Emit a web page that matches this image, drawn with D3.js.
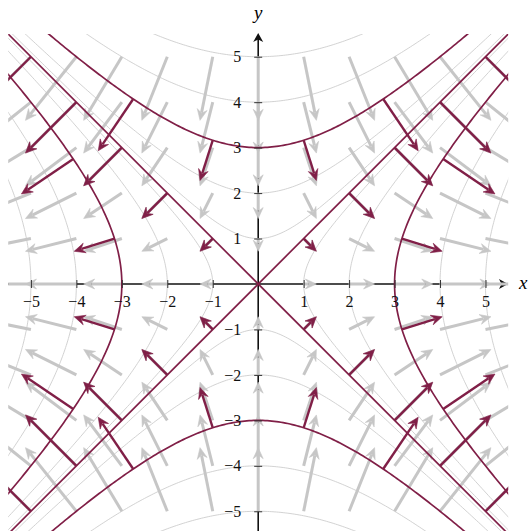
<!DOCTYPE html>
<html>
<head>
<meta charset="utf-8">
<script src="https://cdn.jsdelivr.net/npm/d3@7"></script>
<style>
  body { margin: 0; background: #fff; }
  svg { display: block; }
</style>
</head>
<body>
<div id="chart"></div>
<script>
// level values of f(x, y) = x^2 - y^2
const grayLevels = [-25, -16, -4, -1, 1, 4, 16, 25];
const redLevels = [-9, 0, 9];

// quiver grid (gradient field, gray arrows)
const gridX = [-5, -4, -3, -2, -1, 0, 1, 2, 3, 4, 5];
const gridY = [-5, -4, -3, -2, -1, 0, 1, 2, 3, 4, 5];

// points on the highlighted curves where the red gradient arrows start
const diagSteps = [1, 2, 3, 4, 5];          // (±k, ±k) on f = 0
const hyperParams = [-2.75, -1, 1, 2.75];   // free coordinate on f = ±9
const arrowScale = 0.14;                    // arrow = scale * grad f

const xTicks = [-5, -4, -3, -2, -1, 1, 2, 3, 4, 5];
const yTicks = [-5, -4, -3, -2, -1, 1, 2, 3, 4, 5];

const width = 528, height = 531;
const maroon = '#801f47';
const grayArrow = '#c6c6c6';
const grayLine = '#cdcdcd';
const serif = '"Liberation Serif", "DejaVu Serif", serif';

const x = d3.scaleLinear().domain([-5.5, 5.5]).range([8.2, 508.2]);
const y = d3.scaleLinear().domain([-5.5, 5.5]).range([534, 34]);

const svg = d3.select('#chart').append('svg')
  .attr('width', width)
  .attr('height', height);

svg.append('defs').append('clipPath')
  .attr('id', 'plot-clip')
  .append('rect')
  .attr('x', x(-5.5))
  .attr('y', y(5.5))
  .attr('width', x(5.5) - x(-5.5))
  .attr('height', y(-5.5) - y(5.5));

// gradient of f
const grad = (px, py) => [2 * px, -2 * py];

// sample one level curve of x^2 - y^2 = c (returns list of branches)
function levelCurve(c) {
  const t = d3.range(-7, 7.001, 0.05);
  if (c === 0) {
    return [[[-7, -7], [7, 7]], [[-7, 7], [7, -7]]];
  }
  if (c > 0) {
    return [1, -1].map(s => t.map(v => [s * Math.sqrt(c + v * v), v]));
  }
  return [1, -1].map(s => t.map(v => [v, s * Math.sqrt(-c + v * v)]));
}

const line = d3.line()
  .x(d => x(d[0]))
  .y(d => y(d[1]));

// arrow with stealth head, drawn in pixel space
function drawArrow(g, x0, y0, x1, y1, color, lw, hl, hw) {
  const dx = x1 - x0, dy = y1 - y0;
  const len = Math.hypot(dx, dy);
  if (len < 1) return;
  const ux = dx / len, uy = dy / len;
  const px = -uy, py = ux;
  const sx = x1 - ux * hl * 0.7, sy = y1 - uy * hl * 0.7;
  g.append('line')
    .attr('x1', x0).attr('y1', y0)
    .attr('x2', sx).attr('y2', sy)
    .attr('stroke', color)
    .attr('stroke-width', lw);
  const bx = x1 - ux * hl, by = y1 - uy * hl;
  const nx = x1 - ux * hl * 0.65, ny = y1 - uy * hl * 0.65;
  g.append('path')
    .attr('d', 'M' + x1 + ',' + y1 +
      'L' + (bx + px * hw) + ',' + (by + py * hw) +
      'L' + nx + ',' + ny +
      'L' + (bx - px * hw) + ',' + (by - py * hw) + 'Z')
    .attr('fill', color)
    .attr('stroke', color)
    .attr('stroke-width', 0.6)
    .attr('stroke-linejoin', 'miter');
}

function gradArrow(g, px, py, color, lw, hl, hw) {
  const v = grad(px, py);
  drawArrow(g, x(px), y(py), x(px + arrowScale * v[0]), y(py + arrowScale * v[1]), color, lw, hl, hw);
}

// Axis lines (below the field)
const axes = svg.append('g').attr('class', 'axes');

axes.append('line')
  .attr('x1', x(-5.5)).attr('x2', 502)
  .attr('y1', y(0)).attr('y2', y(0))
  .attr('stroke', '#111').attr('stroke-width', 1.6);
axes.append('path')
  .attr('d', 'M508,' + y(0) + 'l-9,-5 l2.5,5 l-2.5,5 Z')
  .attr('fill', '#111');

axes.append('line')
  .attr('x1', x(0)).attr('x2', x(0))
  .attr('y1', height).attr('y2', 39)
  .attr('stroke', '#111').attr('stroke-width', 1.6);
axes.append('path')
  .attr('d', 'M' + x(0) + ',33 l-5,9 l5,-2.5 l5,2.5 Z')
  .attr('fill', '#111');

const plot = svg.append('g').attr('clip-path', 'url(#plot-clip)');

// gray level curves
plot.append('g')
  .attr('class', 'gray-levels')
  .selectAll('path')
  .data(grayLevels.flatMap(levelCurve))
  .enter().append('path')
    .attr('d', line)
    .attr('fill', 'none')
    .attr('stroke', grayLine)
    .attr('stroke-width', 0.9);

// gray gradient field
const quiver = plot.append('g').attr('class', 'quiver');
gridX.forEach(gx => {
  gridY.forEach(gy => {
    gradArrow(quiver, gx, gy, grayArrow, 3, 11, 5);
  });
});

// highlighted level curves
plot.append('g')
  .attr('class', 'red-levels')
  .selectAll('path')
  .data(redLevels.flatMap(levelCurve))
  .enter().append('path')
    .attr('d', line)
    .attr('fill', 'none')
    .attr('stroke', maroon)
    .attr('stroke-width', 1.7);

// gradient arrows on the highlighted curves
const redArrows = plot.append('g').attr('class', 'red-arrows');
const starts = [];
diagSteps.forEach(k => {
  [[1, 1], [1, -1], [-1, 1], [-1, -1]].forEach(s => starts.push([s[0] * k, s[1] * k]));
});
hyperParams.forEach(t => {
  const r = Math.sqrt(9 + t * t);
  starts.push([r, t], [-r, t], [t, r], [t, -r]);
});
starts.forEach(p => gradArrow(redArrows, p[0], p[1], maroon, 2.4, 11, 5));

// ticks and labels on top
const fmt = d => (d < 0 ? '\u2212' : '') + Math.abs(d);

const xAxis = svg.append('g')
  .attr('transform', 'translate(0,' + y(0) + ')')
  .call(d3.axisBottom(x).tickValues(xTicks).tickFormat(fmt).tickSize(4).tickPadding(8));
xAxis.attr('font-family', null).attr('font-size', null);
xAxis.select('.domain').remove();
xAxis.selectAll('.tick line').attr('y1', -4).attr('stroke', '#333').attr('stroke-width', 1);
xAxis.selectAll('.tick text')
  .style('font-family', serif).style('font-size', '16px').attr('fill', '#111');

const yAxis = svg.append('g')
  .attr('transform', 'translate(' + x(0) + ',0)')
  .call(d3.axisLeft(y).tickValues(yTicks).tickFormat(fmt).tickSize(4).tickPadding(13));
yAxis.attr('font-family', null).attr('font-size', null);
yAxis.select('.domain').remove();
yAxis.selectAll('.tick line').attr('x1', 4).attr('stroke', '#333').attr('stroke-width', 1);
yAxis.selectAll('.tick text')
  .style('font-family', serif).style('font-size', '16px').attr('fill', '#111');

svg.append('text')
  .attr('x', 519).attr('y', 289)
  .style('font-family', serif)
  .style('font-style', 'italic')
  .style('font-size', '19px')
  .text('x');
svg.append('text')
  .attr('x', x(0)).attr('y', 19)
  .attr('text-anchor', 'middle')
  .style('font-family', serif)
  .style('font-style', 'italic')
  .style('font-size', '19px')
  .text('y');
</script>
</body>
</html>
